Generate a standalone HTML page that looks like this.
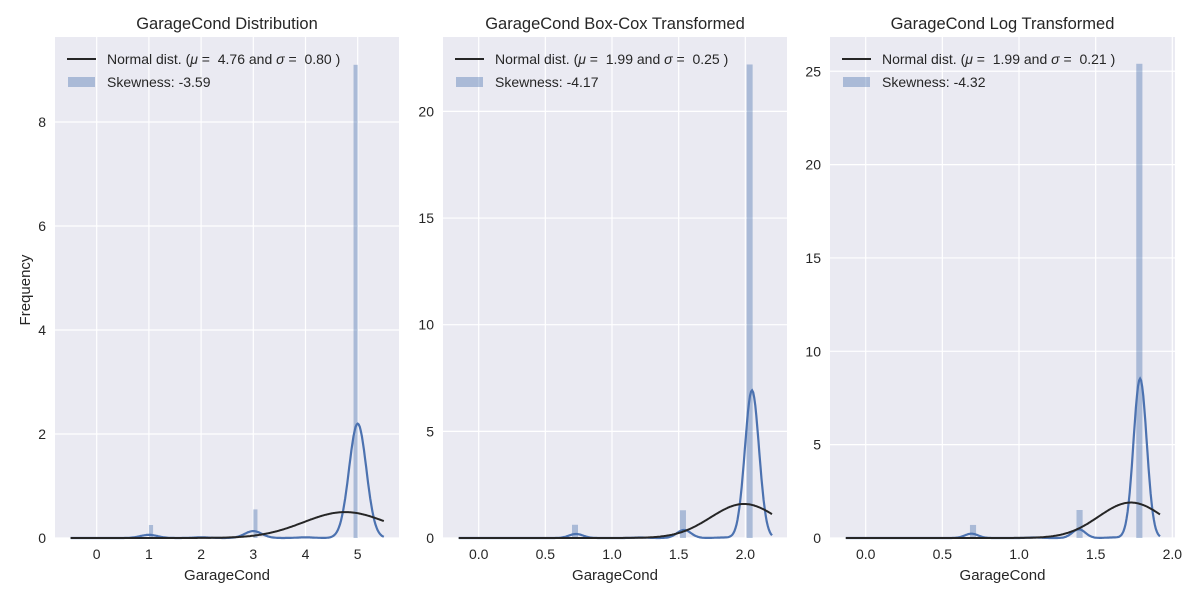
<!DOCTYPE html>
<html><head><meta charset="utf-8"><style>
body{margin:0;background:#fff;font-family:"Liberation Sans",Arial,sans-serif}
svg text{font-family:"Liberation Sans",Arial,sans-serif;fill:#262626;white-space:pre}
</style></head><body>
<svg id="fig" width="1200" height="600" xmlns="http://www.w3.org/2000/svg"></svg>
<script>
const titles = ["GarageCond Distribution","GarageCond Box-Cox Transformed","GarageCond Log Transformed"];
const legendMu = ["4.76","1.99","1.99"];
const legendSigma = ["0.80","0.25","0.21"];
const skewness = ["-3.59","-4.17","-4.32"];
const xTicks1 = [0,1,2,3,4,5];
const xTicks2 = [0.0,0.5,1.0,1.5,2.0];
const xTicks3 = [0.0,0.5,1.0,1.5,2.0];
const yTicks1 = [0,2,4,6,8];
const yTicks2 = [0,5,10,15,20];
const yTicks3 = [0,5,10,15,20,25];
const binLeft1 = [1.0,2.0,3.0,4.0,4.92];
const binH1 = [0.25,0.03,0.55,0.03,9.1];
const binLeft2 = [0.70,1.20,1.51,1.81,2.01];
const binH2 = [0.62,0.05,1.3,0.05,22.2];
const binLeft3 = [0.68,1.09,1.375,1.59,1.765];
const binH3 = [0.7,0.05,1.5,0.05,25.4];
const binW = [0.08,0.045,0.04];
const kdeLoc1 = [1,2,3,4,5];
const kdeW1 = [0.025,0.005,0.055,0.005,0.91];
const kdeLoc2 = [0.73,1.21,1.54,1.83,2.05];
const kdeW2 = [0.025,0.003,0.05,0.003,0.92];
const kdeLoc3 = [0.69,1.10,1.39,1.61,1.79];
const kdeW3 = [0.025,0.003,0.05,0.003,0.92];
const kdeBw = [0.165,0.053,0.043];
const kdeRange = [[-0.5,5.5],[-0.15,2.2],[-0.13,1.92]];
const normMu = [4.76,1.99,1.73];
const normSigma = [0.80,0.25,0.21];

const NS="http://www.w3.org/2000/svg";
const svg=document.getElementById('fig');
function mk(tag,attrs,parent){const e=document.createElementNS(NS,tag);for(const k in attrs)e.setAttribute(k,attrs[k]);(parent||svg).appendChild(e);return e;}

const panels=[
 {l:55,r:399,x0:96.7,ppx:52.2,ppy:52.0,xt:xTicks1,yt:yTicks1,bl:binLeft1,bh:binH1,kl:kdeLoc1,kw:kdeW1,dec:0},
 {l:443,r:787,x0:478.7,ppx:133.3,ppy:21.33,xt:xTicks2,yt:yTicks2,bl:binLeft2,bh:binH2,kl:kdeLoc2,kw:kdeW2,dec:1},
 {l:830,r:1175,x0:865.7,ppx:153.3,ppy:18.67,xt:xTicks3,yt:yTicks3,bl:binLeft3,bh:binH3,kl:kdeLoc3,kw:kdeW3,dec:1}
];
const plotTop=37,plotBot=538;
panels.forEach((p,i)=>{
 const g=mk('g',{});
 
 
 const X=v=>p.x0+v*p.ppx, Y=v=>plotBot-v*p.ppy;
 const bg=mk('rect',{x:p.l,y:plotTop,width:p.r-p.l,height:plotBot-plotTop,fill:'#eaeaf2'},g);
 
 
 p.xt.forEach(t=>{
  mk('line',{x1:X(t),x2:X(t),y1:plotTop,y2:plotBot,stroke:'#fff','stroke-width':1.2},g);
  const tx=mk('text',{x:X(t),y:plotBot+21,'text-anchor':'middle','font-size':14},g);
  tx.textContent=t.toFixed(p.dec);
  
  
 });
 p.yt.forEach(t=>{
  mk('line',{x1:p.l,x2:p.r,y1:Y(t),y2:Y(t),stroke:'#fff','stroke-width':1.2},g);
  const tx=mk('text',{x:p.l-9,y:Y(t)+5,'text-anchor':'end','font-size':14},g);
  tx.textContent=t;
  
  
 });
 p.bl.forEach((b,j)=>{
  const r=mk('rect',{x:X(b),y:Y(p.bh[j]),width:binW[i]*p.ppx,height:p.bh[j]*p.ppy,fill:'#4c72b0','fill-opacity':0.4},g);
  
  
 });
 const a=kdeRange[i][0],b=kdeRange[i][1];const h=kdeBw[i];let kd='',nd='';
 for(let k=0;k<=300;k++){
  const x=a+(b-a)*k/300;
  let y=0;p.kl.forEach((m,j)=>{y+=p.kw[j]*Math.exp(-0.5*Math.pow((x-m)/h,2))/(h*Math.sqrt(2*Math.PI));});
  kd+=(k?'L':'M')+X(x).toFixed(1)+','+Y(y).toFixed(1);
  const s=normSigma[i];const ny=Math.exp(-0.5*Math.pow((x-normMu[i])/s,2))/(s*Math.sqrt(2*Math.PI));
  nd+=(k?'L':'M')+X(x).toFixed(1)+','+Y(ny).toFixed(1);
 }
 const kp=mk('path',{d:kd,fill:'none',stroke:'#4c72b0','stroke-width':2.2},g);
 
 
 const np=mk('path',{d:nd,fill:'none',stroke:'#262626','stroke-width':2},g);
 
 
 const ti=mk('text',{x:(p.l+p.r)/2,y:29,'text-anchor':'middle','font-size':16.5},g);
 ti.textContent=titles[i];
 
 
 const xl=mk('text',{x:(p.l+p.r)/2,y:580,'text-anchor':'middle','font-size':15},g);
 xl.textContent='GarageCond';
 
 
 const lg=mk('g',{},g);
 
 
 mk('line',{x1:p.l+12,x2:p.l+41,y1:59,y2:59,stroke:'#262626','stroke-width':2},lg);
 mk('rect',{x:p.l+13,y:77,width:27,height:10,fill:'#4c72b0','fill-opacity':0.4},lg);
 const t1=mk('text',{x:p.l+52,y:64,'font-size':14},lg);
 t1.appendChild(document.createTextNode('Normal dist. ('));
 const s1=mk('tspan',{'font-style':'italic'},t1);s1.textContent='μ';
 t1.appendChild(document.createTextNode(' =  '+legendMu[i]+' and '));
 const s2=mk('tspan',{'font-style':'italic'},t1);s2.textContent='σ';
 t1.appendChild(document.createTextNode(' =  '+legendSigma[i]+' )'));
 const t2=mk('text',{x:p.l+52,y:87,'font-size':14},lg);
 t2.textContent='Skewness: '+skewness[i];
});
const yl=mk('text',{x:30,y:290,'text-anchor':'middle','font-size':15,transform:'rotate(-90 30 290)'});
yl.textContent='Frequency';


</script>
</body></html>
